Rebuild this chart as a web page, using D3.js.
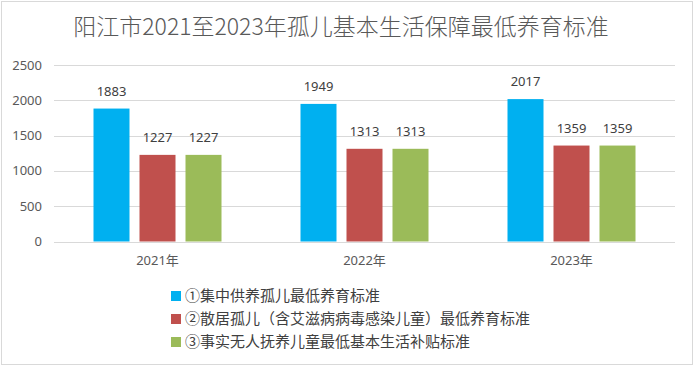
<!DOCTYPE html>
<html><head><meta charset="utf-8">
<script src="https://cdn.jsdelivr.net/npm/d3@7"></script>
<style>
html,body{margin:0;padding:0;background:#fff;}
svg{display:block;}
</style></head>
<body><svg id="chart" width="694" height="366"></svg>
<script>
const title = "阳江市2021至2023年孤儿基本生活保障最低养育标准";
const categories = ["2021年", "2022年", "2023年"];
const seriesNames = [
  "①集中供养孤儿最低养育标准",
  "②散居孤儿（含艾滋病病毒感染儿童）最低养育标准",
  "③事实无人抚养儿童最低基本生活补贴标准"
];
const seriesColors = ["#00B0F0", "#C0504D", "#9BBB59"];
const series1 = [1883, 1949, 2017];
const series2 = [1227, 1313, 1359];
const series3 = [1227, 1313, 1359];
const yTicks = [0, 500, 1000, 1500, 2000, 2500];

const allSeries = [series1, series2, series3];
const svg = d3.select("#chart");
const font = "'Noto Sans','Noto Sans CJK SC',sans-serif";

svg.append("rect").attr("x",1.5).attr("y",1.5).attr("width",691).attr("height",363)
  .attr("fill","#fff").attr("stroke","#d9d9d9").attr("stroke-width",1);

svg.append("text").attr("x",341).attr("y",35).attr("text-anchor","middle")
  .attr("font-family","'Noto Sans CJK SC',sans-serif").attr("font-size",23)
  .attr("font-weight",300)
  .attr("fill","#595959").text(title);

const plotL = 54, plotR = 675, plotT = 65, plotB = 241.5;
const x0 = d3.scaleBand().domain(categories).range([plotL, plotR]).paddingInner(0).paddingOuter(0);
const x1 = d3.scaleBand().domain(d3.range(3)).range([0, 128]).paddingInner(10/46).paddingOuter(0);
const y = d3.scaleLinear().domain([0, 2500]).range([plotB, plotT]);

svg.append("g").selectAll("line").data(yTicks).join("line")
  .attr("x1", plotL).attr("x2", plotR)
  .attr("y1", d => Math.round(y(d)) + 0.5).attr("y2", d => Math.round(y(d)) + 0.5)
  .attr("stroke", "#d9d9d9").attr("stroke-width", 1);

svg.append("g").selectAll("text").data(yTicks).join("text")
  .attr("x", 42).attr("y", d => y(d)).attr("dy", "0.35em")
  .attr("text-anchor", "end").attr("font-family", font).attr("font-size", 13)
  .attr("fill", "#595959").text(d => d);

const groups = svg.append("g").selectAll("g").data(categories).join("g")
  .attr("transform", c => `translate(${x0(c) + (x0.bandwidth() - 128) / 2},0)`);

groups.each(function(c, ci) {
  const g = d3.select(this);
  allSeries.forEach((s, si) => {
    const v = s[ci];
    g.append("rect").attr("x", x1(si)).attr("width", x1.bandwidth())
      .attr("y", y(v)).attr("height", y(0) - y(v)).attr("fill", seriesColors[si]);
    g.append("text").attr("x", x1(si) + x1.bandwidth() / 2).attr("y", y(v) - 13)
      .attr("text-anchor", "middle").attr("font-family", font).attr("font-size", 13)
      .attr("fill", "#404040").text(v);
  });
});

svg.append("g").selectAll("text").data(categories).join("text")
  .attr("x", c => x0(c) + x0.bandwidth() / 2).attr("y", 265)
  .attr("text-anchor", "middle").attr("font-family", font).attr("font-size", 13)
  .attr("fill", "#595959").text(c => c);

const lg = svg.append("g").selectAll("g").data(seriesNames).join("g")
  .attr("transform", (d, i) => `translate(171,${296 + i * 23})`);
lg.append("rect").attr("x", 0).attr("y", -5).attr("width", 10).attr("height", 10)
  .attr("fill", (d, i) => seriesColors[i]);
lg.append("text").attr("x", 14).attr("y", 0).attr("dy", "0.35em")
  .attr("font-family", "'Noto Sans CJK SC',sans-serif").attr("font-size", 15)
  .attr("fill", "#404040").text(d => d);
</script></body></html>
